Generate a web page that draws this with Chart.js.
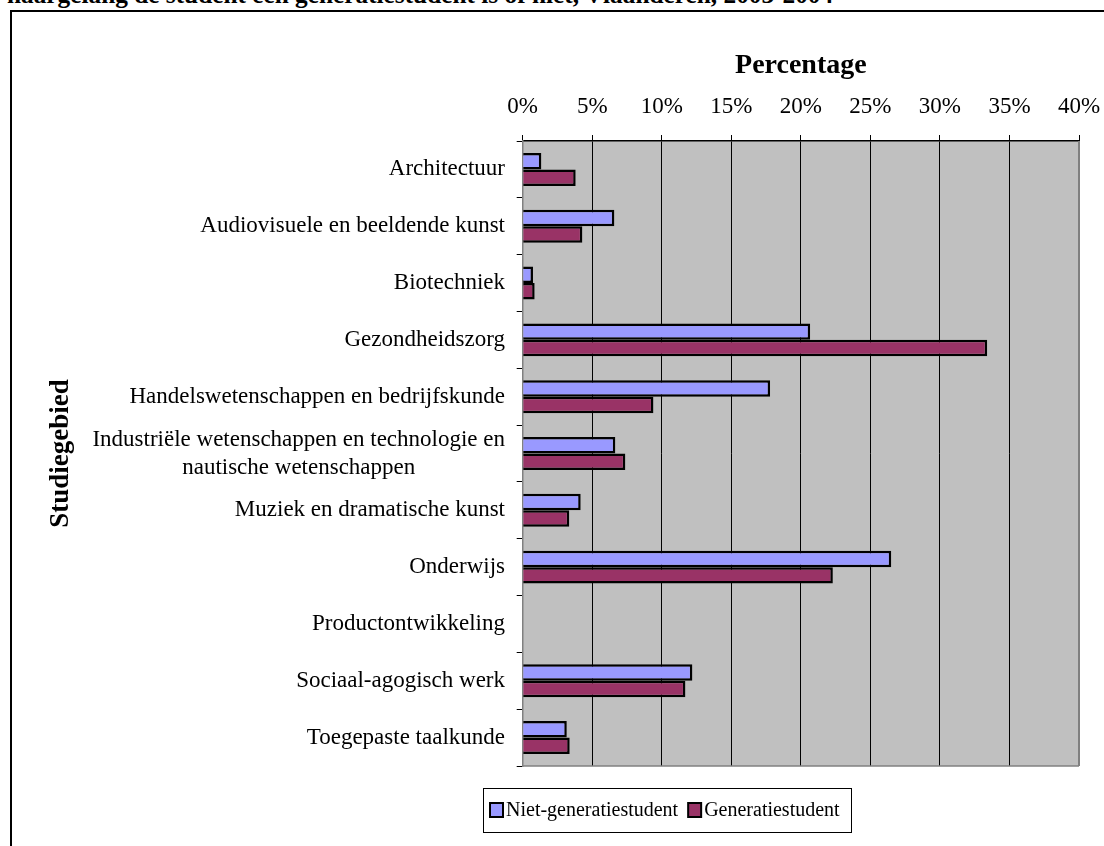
<!DOCTYPE html>
<html>
<head>
<meta charset="utf-8">
<script src="https://cdn.jsdelivr.net/npm/chart.js@4/dist/chart.umd.min.js"></script>
<style>
  body { margin: 0; background: #fff; overflow: hidden; }
  #wrap { position: relative; width: 1104px; height: 846px; overflow: hidden; }
  #frame { position: absolute; left: 10px; top: 10px; width: 1200px; height: 900px; border-left: 2px solid #000; border-top: 2px solid #000; }
  #cut-title { position: absolute; left: 7px; top: -18px; white-space: nowrap; font: bold 25.3px "Liberation Serif", serif; line-height: 25px; color: #000; }
  #box { position: absolute; left: 0; top: 0; width: 1104px; height: 846px; }
</style>
</head>
<body>
<div id="wrap">
  <div id="frame"></div>
  <div id="cut-title">naargelang de student een generatiestudent is of niet, Vlaanderen, 2003-2004</div>
  <div id="box"><canvas id="chart"></canvas></div>
</div>
<script>
const categories = [
  "Architectuur",
  "Audiovisuele en beeldende kunst",
  "Biotechniek",
  "Gezondheidszorg",
  "Handelswetenschappen en bedrijfskunde",
  ["Industriële wetenschappen en technologie en", "nautische wetenschappen"],
  "Muziek en dramatische kunst",
  "Onderwijs",
  "Productontwikkeling",
  "Sociaal-agogisch werk",
  "Toegepaste taalkunde"
];
const nietGeneratie = [1.34, 6.59, 0.74, 20.67, 17.79, 6.66, 4.17, 26.5, 0, 12.2, 3.17];
const generatie = [3.81, 4.29, 0.86, 33.4, 9.40, 7.38, 3.35, 22.3, 0, 11.7, 3.38];
const seriesNames = ["Niet-generatiestudent", "Generatiestudent"];
const seriesColors = ["#9999FF", "#993366"];

const SERIF = '"Liberation Serif", "Times New Roman", serif';
const PLOT_LEFT = 522.7;
const LABEL_RIGHT = 505;

// grey plot background + frame, custom y labels, boxed legend
const excelLook = {
  id: "excelLook",
  beforeDraw(chart) {
    const { ctx, chartArea: a } = chart;
    ctx.save();
    ctx.fillStyle = "#C0C0C0";
    ctx.fillRect(a.left, a.top, a.right - a.left, a.bottom - a.top);
    ctx.restore();
  },
  afterDraw(chart) {
    const { ctx, chartArea: a } = chart;
    const y = chart.scales.y;
    ctx.save();
    // grey right and bottom edges of the plot
    ctx.strokeStyle = "#808080";
    ctx.lineWidth = 2;
    ctx.beginPath();
    ctx.moveTo(a.right, a.top);
    ctx.lineTo(a.right, a.bottom);
    ctx.stroke();
    ctx.lineWidth = 1.5;
    ctx.beginPath();
    ctx.moveTo(a.left, a.bottom);
    ctx.lineTo(a.right, a.bottom);
    ctx.stroke();

    // category labels, multi-line ones centred on their widest line
    ctx.fillStyle = "#000";
    ctx.font = "23px " + SERIF;
    ctx.textAlign = "center";
    ctx.textBaseline = "middle";
    categories.forEach((lab, i) => {
      const lines = Array.isArray(lab) ? lab : [lab];
      const w = Math.max(...lines.map(l => ctx.measureText(l).width));
      const cx = LABEL_RIGHT - w / 2;
      const py = y.getPixelForValue(i);
      lines.forEach((l, j) => {
        ctx.fillText(l, cx, py + (j - (lines.length - 1) / 2) * 28);
      });
    });

    // legend
    ctx.font = "20px " + SERIF;
    ctx.textAlign = "left";
    const boxL = 483, boxT = 788, boxW = 368, boxH = 44;
    ctx.fillStyle = "#fff";
    ctx.fillRect(boxL, boxT, boxW, boxH);
    ctx.strokeStyle = "#000";
    ctx.lineWidth = 1;
    ctx.strokeRect(boxL + 0.5, boxT + 0.5, boxW, boxH);
    let x = boxL + 7;
    const cy = boxT + boxH / 2;
    seriesNames.forEach((name, i) => {
      ctx.fillStyle = seriesColors[i];
      ctx.fillRect(x, cy - 7, 13, 14);
      ctx.strokeStyle = "#000";
      ctx.lineWidth = 2;
      ctx.strokeRect(x, cy - 7, 13, 14);
      ctx.fillStyle = "#000";
      ctx.fillText(name, x + 16, cy + 1);
      x += 16 + ctx.measureText(name).width + 10;
    });
    ctx.restore();
  }
};

new Chart(document.getElementById("chart"), {
  type: "bar",
  data: {
    labels: categories,
    datasets: [
      {
        label: seriesNames[0],
        data: nietGeneratie,
        backgroundColor: seriesColors[0],
        borderColor: "#000",
        borderWidth: 2.5,
        borderSkipped: "start"
      },
      {
        label: seriesNames[1],
        data: generatie,
        backgroundColor: seriesColors[1],
        borderColor: "#000",
        borderWidth: 2.5,
        borderSkipped: "start"
      }
    ]
  },
  options: {
    indexAxis: "y",
    responsive: true,
    maintainAspectRatio: false,
    animation: false,
    devicePixelRatio: 1,
    layout: { padding: { left: 0, top: 45, right: 25, bottom: 80 } },
    datasets: {
      bar: { categoryPercentage: 0.58, barPercentage: 1 }
    },
    scales: {
      x: {
        position: "top",
        min: 0,
        max: 40,
        afterFit(scale) {
          scale.height = 96;
          scale.paddingLeft = 0;
          scale.paddingRight = 0;
        },
        ticks: {
          stepSize: 5,
          padding: 14,
          color: "#000",
          font: { family: SERIF, size: 23 },
          callback: v => v + "%"
        },
        grid: { color: "#000", lineWidth: 1, tickLength: 6 },
        border: { color: "#000", width: 1.5 },
        title: {
          display: true,
          text: "Percentage",
          color: "#000",
          font: { family: SERIF, size: 28, weight: "bold" },
          padding: { top: 4, bottom: 0 }
        }
      },
      y: {
        afterFit(scale) { scale.width = PLOT_LEFT; },
        ticks: {
          autoSkip: false,
          color: "rgba(0,0,0,0)",
          font: { family: SERIF, size: 12 },
          padding: 11
        },
        grid: { drawOnChartArea: false, color: "#000", tickLength: 6, offset: true },
        border: { color: "#808080", width: 1.5 },
        title: {
          display: true,
          text: "Studiegebied",
          color: "#000",
          font: { family: SERIF, size: 27, weight: "bold" },
          padding: { top: 45, bottom: 0 }
        }
      }
    },
    plugins: {
      legend: { display: false },
      tooltip: { enabled: false }
    }
  },
  plugins: [excelLook]
});
</script>
</body>
</html>
